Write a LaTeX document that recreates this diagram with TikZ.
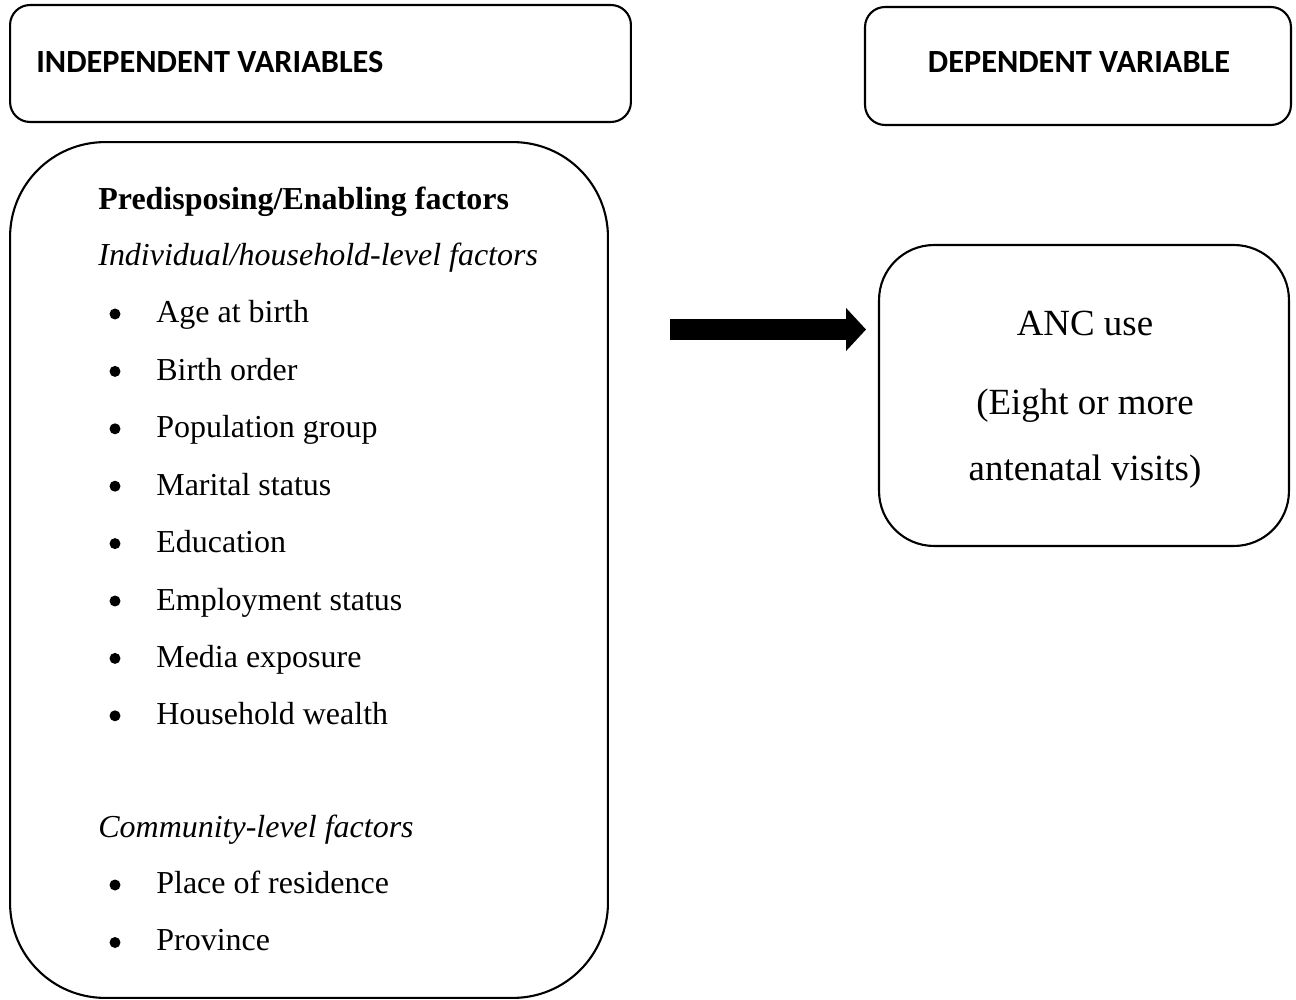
\documentclass[tikz,border=0pt]{standalone}
\usepackage{fontspec}
\setmainfont{Liberation Serif}
\newfontfamily\hdfont{Carlito}
\usetikzlibrary{arrows.meta}

\begin{document}
\begin{tikzpicture}[x=0.02cm,y=-0.02cm,
      box/.style={draw,rectangle,line width=1.2pt,inner sep=0pt},
      hd/.style={inner sep=0pt,font=\hdfont\bfseries\fontsize{18.4}{21}\selectfont},
      txt/.style={inner sep=0pt,anchor=base west,font=\fontsize{18.2}{22}\selectfont},
      anctxt/.style={inner sep=0pt,anchor=base,font=\fontsize{21}{25}\selectfont},
      dot/.style={circle,fill,inner sep=0pt,minimum size=0.22cm}]
  \useasboundingbox (0,0) rectangle (1296,1000);
  % header boxes
  \node[box,rounded corners=0.4cm,minimum width=12.42cm,minimum height=2.34cm]
    (indep) at (320.5,63.5) {};
  \node[box,rounded corners=0.4cm,minimum width=8.52cm,minimum height=2.36cm]
    (dep) at (1078,66) {};
  \node[hd,anchor=base west] (indeplbl) at (36,73) {INDEPENDENT VARIABLES};
  \node[hd,anchor=base] (deplbl) at (1079,73) {DEPENDENT VARIABLE};
  % factors box
  \node[box,rounded corners=1.9cm,minimum width=11.96cm,minimum height=17.12cm]
    (factors) at (309,570) {};
  \node[txt] (pred) at (98,210) {\textbf{Predisposing/Enabling factors}};
  \node[txt] (indiv) at (98,266) {\textit{Individual/household-level factors}};
  \foreach \t [count=\i from 0] in {Age at birth,Birth order,Population group,
      Marital status,Education,Employment status,Media exposure,Household wealth}{
    \node[dot] (b\i) at (115,{314+57.4*\i}) {};
    \node[txt] (it\i) at (156,{323+57.4*\i}) {\t};
  }
  \node[txt] (comm) at (98,837) {\textit{Community-level factors}};
  \foreach \t [count=\i from 0] in {Place of residence,Province}{
    \node[dot] (cb\i) at (115,{885+57.5*\i}) {};
    \node[txt] (ct\i) at (156,{893+57.5*\i}) {\t};
  }
  % outcome box
  \node[box,rounded corners=1.1cm,minimum width=8.2cm,minimum height=6.02cm]
    (anc) at (1084,395.5) {};
  \node[anctxt] (anc1) at (1085,336) {ANC use};
  \node[anctxt] (anc2) at (1085,415) {(Eight or more};
  \node[anctxt] (anc3) at (1085,480) {antenatal visits)};
  % arrow
  \coordinate (tail) at (670,329.5);
  \draw[line width=12.5pt,-{Triangle[length=11.4pt,width=23.9pt]},shorten >=6.8pt]
    (tail) -- (anc.west |- tail);
\end{tikzpicture}
\end{document}
